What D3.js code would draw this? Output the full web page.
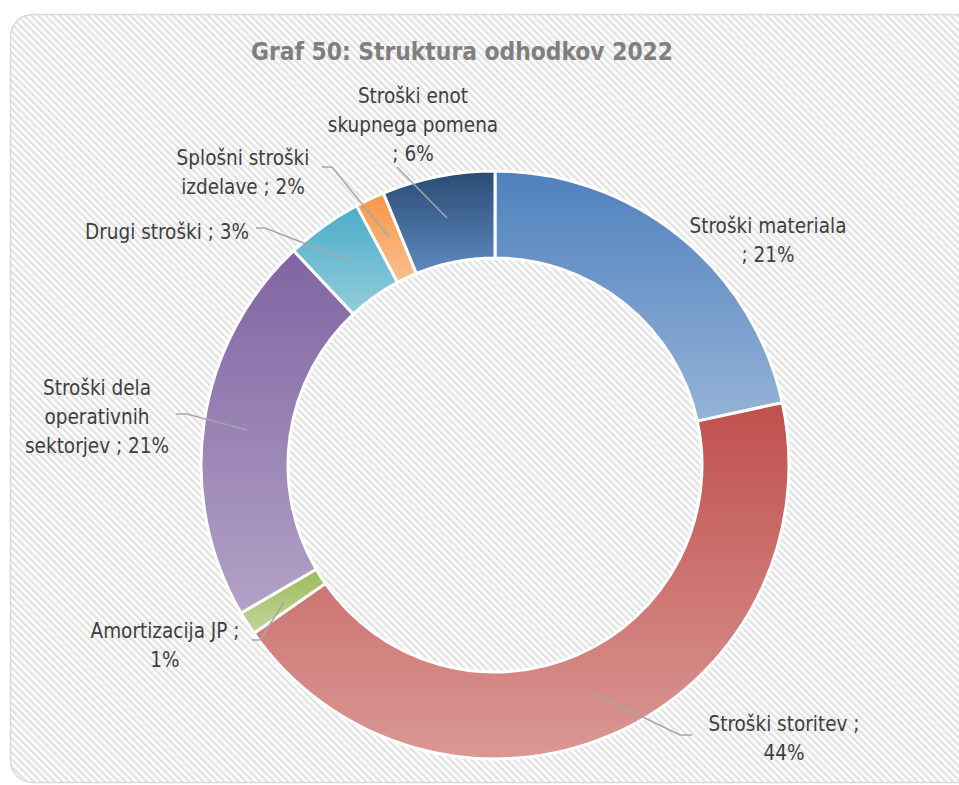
<!DOCTYPE html>
<html><head><meta charset="utf-8">
<script src="https://cdn.jsdelivr.net/npm/d3@7"></script>
<style>body{margin:0;background:#fff;}svg{display:block;}</style>
</head><body>
<svg id="c" width="959" height="785"></svg>
<script>
const title = "Graf 50: Struktura odhodkov 2022";
const categories = ["Stroški materiala","Stroški storitev","Amortizacija JP","Stroški dela operativnih sektorjev","Drugi stroški","Splošni stroški izdelave","Stroški enot skupnega pomena"];
const values = [21.6, 43.7, 1.3, 21.4, 4.2, 1.6, 6.2];
const pctLabels = ["21%","44%","1%","21%","3%","2%","6%"];
const labelLines = [
  ["Stroški materiala","; 21%"],
  ["Stroški storitev ;","44%"],
  ["Amortizacija JP ;","1%"],
  ["Stroški dela","operativnih","sektorjev ; 21%"],
  ["Drugi stroški ; 3%"],
  ["Splošni stroški","izdelave ; 2%"],
  ["Stroški enot","skupnega pomena","; 6%"]
];
const colorsTop = ["#4f81bd","#c0504d","#9bbb59","#8064a2","#4bacc6","#f79646","#2a4a74"];
const colorsBottom = ["#95b3d7","#da9895","#c3d69b","#b3a2c7","#93cddd","#fac090","#5f8ac0"];
const labelPos = [[768,226],[784,724],[165,631],[97,388],[167,232],[243,158],[413,96]];
const leaders = [
  null,
  [[597,695],[680,735],[692,735]],
  [[284,602],[260,640],[252,640]],
  [[247,430],[187,414],[176,414]],
  [[350,261],[265,228],[256,228]],
  [[389,237],[332,167],[322,167]],
  [[447,218],[397,167]]
];

const svg = d3.select("#c");
const defs = svg.append("defs");
const pat = defs.append("pattern").attr("id","hatch").attr("patternUnits","userSpaceOnUse")
  .attr("width",5).attr("height",5).attr("patternTransform","rotate(-45)");
pat.append("rect").attr("width",5).attr("height",5).attr("fill","#ffffff");
pat.append("rect").attr("width",2.4).attr("height",5).attr("fill","#e2e2e2");

svg.append("rect").attr("x",10.5).attr("y",14.5).attr("width",970).attr("height",768)
  .attr("rx",22).attr("fill","url(#hatch)").attr("stroke","#d9d9d9").attr("stroke-width",1.5);

svg.append("text").attr("x",462).attr("y",60).attr("text-anchor","middle")
  .attr("font-family","DejaVu Sans Condensed, DejaVu Sans").attr("font-weight","bold")
  .attr("font-size",24.3).attr("fill","#7f7f7f").text(title);

categories.forEach((c,i)=>{
  const g = defs.append("linearGradient").attr("id","g"+i).attr("x1",0).attr("y1",0).attr("x2",0).attr("y2",1);
  g.append("stop").attr("offset","0%").attr("stop-color",colorsTop[i]);
  g.append("stop").attr("offset","100%").attr("stop-color",colorsBottom[i]);
});

const cx = 495, cy = 465, R = 294, r = 207;
const pie = d3.pie().sort(null).value(d=>d.v);
const arcs = pie(values.map((v,i)=>({v,i})));
const arc = d3.arc().innerRadius(r).outerRadius(R);
const g = svg.append("g").attr("transform",`translate(${cx},${cy})`);
g.selectAll("path").data(arcs).join("path")
  .attr("d",arc).attr("fill",d=>`url(#g${d.data.i})`)
  .attr("stroke","#fff").attr("stroke-width",3).attr("stroke-linejoin","round");

const line = d3.line();
leaders.forEach(l=>{ if(l) svg.append("path").attr("d",line(l)).attr("fill","none")
  .attr("stroke","#a6a6a6").attr("stroke-width",1.5); });

labelLines.forEach((lines,i)=>{
  const t = svg.append("text").attr("text-anchor","middle")
    .attr("font-family","DejaVu Sans Condensed, DejaVu Sans").attr("font-size",20.5).attr("fill","#3f3f3f");
  lines.forEach((s,j)=>{
    t.append("tspan").attr("x",labelPos[i][0]).attr("y",labelPos[i][1]+j*29+7).text(s);
  });
});
</script>
</body></html>
